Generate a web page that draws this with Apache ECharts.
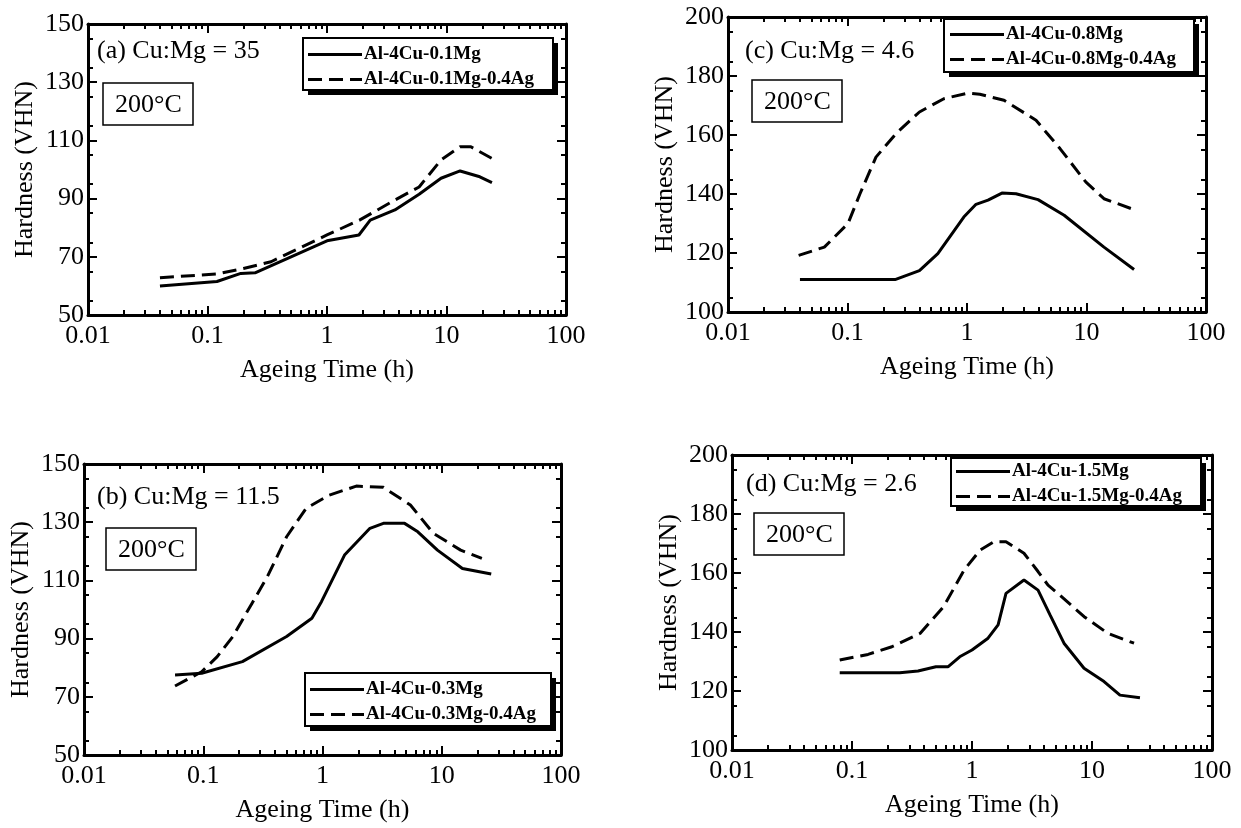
<!DOCTYPE html>
<html><head><meta charset="utf-8">
<script src="https://cdn.jsdelivr.net/npm/echarts@6/dist/echarts.min.js"></script>
<style>html,body{margin:0;padding:0;background:#fff}#c{width:1241px;height:828px}</style>
</head><body><div id="c"></div>
<script>
// ---- tick values ----
const xTicks = [0.01, 0.1, 1, 10, 100];
const xMinorTicks = [0.02,0.03,0.04,0.05,0.06,0.07,0.08,0.09,
                     0.2,0.3,0.4,0.5,0.6,0.7,0.8,0.9,
                     2,3,4,5,6,7,8,9,
                     20,30,40,50,60,70,80,90];
const yTicksLow = [50, 70, 90, 110, 130, 150];
const yTicksHigh = [100, 120, 140, 160, 180, 200];

// ---- (a) Cu:Mg = 35 ----
const aBaseT = [0.04, 0.12, 0.19, 0.25, 0.5, 1, 1.85, 2.3, 3.7, 5.9, 9, 13, 19, 24];
const aBaseH = [60, 61.5, 64.3, 64.5, 70, 75.5, 77.5, 82.6, 86.1, 91.5, 97, 99.5, 97.5, 95.5];
const aAgT = [0.04, 0.12, 0.2, 0.34, 1, 1.87, 3.7, 5.9, 9, 13, 16, 24];
const aAgH = [62.8, 64.1, 66, 68.3, 77.5, 82.6, 89.5, 94, 103.3, 107.8, 107.8, 103.8];

// ---- (b) Cu:Mg = 11.5 ----
const bBaseT = [0.058, 0.097, 0.213, 0.5, 0.815, 0.98, 1.53, 2.5, 3.24, 4.88, 6.3, 9.2, 14.9, 26];
const bBaseH = [77.5, 78.1, 82.1, 90.7, 97, 102.7, 118.7, 127.9, 129.6, 129.6, 126.7, 120.4, 114.1, 112.2];
const bAgT = [0.058, 0.097, 0.131, 0.177, 0.256, 0.345, 0.5, 0.73, 1.14, 1.92, 3.24, 5.46, 8.5, 14.4, 21.7];
const bAgH = [73.7, 78.6, 83.8, 90.7, 102.1, 111.3, 125, 134.8, 139.3, 142.4, 142, 135.9, 126.2, 120.4, 117.6];

// ---- (c) Cu:Mg = 4.6 ----
const cBaseT = [0.04, 0.25, 0.4, 0.57, 0.75, 0.94, 1.19, 1.5, 1.96, 2.57, 3.93, 6.5, 14, 25];
const cBaseH = [111, 111, 114, 119.8, 126.6, 132.2, 136.5, 137.9, 140.3, 140.1, 138.1, 132.8, 122, 114.4];
const cAgT = [0.039, 0.064, 0.101, 0.127, 0.173, 0.255, 0.4, 0.64, 1.02, 1.28, 2.04, 3.78, 6, 9.9, 14, 25];
const cAgH = [119.2, 122, 130, 140, 152.5, 160.5, 167.8, 172.3, 174.2, 173.8, 171.8, 165, 155.4, 144, 138.4, 134.7];

// ---- (d) Cu:Mg = 2.6 ----
const dBaseT = [0.079, 0.25, 0.355, 0.5, 0.63, 0.79, 1.0, 1.36, 1.65, 1.92, 2.71, 3.55, 4.47, 5.84, 8.58, 12.6, 17.1, 25.1];
const dBaseH = [126.2, 126.2, 126.8, 128.2, 128.2, 131.6, 133.9, 137.9, 142.4, 153.1, 157.6, 154.2, 145.8, 136.2, 127.7, 123.2, 118.6, 117.7];
const dAgT = [0.079, 0.136, 0.215, 0.369, 0.58, 0.86, 1.17, 1.52, 1.92, 2.71, 3.55, 4.3, 5.4, 8.6, 13.6, 22.4];
const dAgH = [130.5, 132.4, 135, 139.5, 148.6, 161, 167.8, 170.6, 170.6, 166.7, 160.5, 155.9, 152.5, 145.2, 139.5, 136.2];

const panels = [
  {label: '(a) Cu:Mg = 35', names: ['Al-4Cu-0.1Mg', 'Al-4Cu-0.1Mg-0.4Ag'],
   base: [aBaseT, aBaseH], ag: [aAgT, aAgH], yTicks: yTicksLow,
   grid: {left: 88, top: 24, width: 478, height: 291},
   labelPos: {left: 97, top: 38}, boxPos: {left: 103, top: 83},
   legendBox: {x: 302, y: 37, w: 250, h: 52}, legendPos: {left: 308, top: 45}},
  {label: '(c) Cu:Mg = 4.6', names: ['Al-4Cu-0.8Mg', 'Al-4Cu-0.8Mg-0.4Ag'],
   base: [cBaseT, cBaseH], ag: [cAgT, cAgH], yTicks: yTicksHigh,
   grid: {left: 728, top: 17, width: 478, height: 295},
   labelPos: {left: 745, top: 38}, boxPos: {left: 752, top: 80},
   legendBox: {x: 943, y: 18, w: 250, h: 53}, legendPos: {left: 950, top: 25}},
  {label: '(b) Cu:Mg = 11.5', names: ['Al-4Cu-0.3Mg', 'Al-4Cu-0.3Mg-0.4Ag'],
   base: [bBaseT, bBaseH], ag: [bAgT, bAgH], yTicks: yTicksLow,
   grid: {left: 84, top: 464, width: 477, height: 291},
   labelPos: {left: 97, top: 484}, boxPos: {left: 106, top: 528},
   legendBox: {x: 304, y: 672, w: 246, h: 53}, legendPos: {left: 310, top: 680}},
  {label: '(d) Cu:Mg = 2.6', names: ['Al-4Cu-1.5Mg', 'Al-4Cu-1.5Mg-0.4Ag'],
   base: [dBaseT, dBaseH], ag: [dAgT, dAgH], yTicks: yTicksHigh,
   grid: {left: 732, top: 455, width: 480, height: 295},
   labelPos: {left: 746, top: 471}, boxPos: {left: 754, top: 513},
   legendBox: {x: 950, y: 457, w: 250, h: 48}, legendPos: {left: 956, top: 462}}
];

const FONT = 'Liberation Serif';
const DASH_ICON = 'path://M0,0h14v3h-14z M21,0h14v3h-14z M42,0h12v3h-12z';
const SHADOW = 6;
const zip = (t, h) => t.map((v, i) => [v, h[i]]);

const option = {
  animation: false,
  backgroundColor: '#fff',
  grid: [], xAxis: [], yAxis: [], series: [], legend: [], title: [], graphic: []
};

panels.forEach((p, gi) => {
  option.grid.push(Object.assign({containLabel: false}, p.grid));
  const yMin = p.yTicks[0], yMax = p.yTicks[p.yTicks.length - 1];
  const frame = {show: true, lineStyle: {color: '#000', width: 3}};
  const xBase = {type: 'log', logBase: 10, min: xTicks[0], max: xTicks[xTicks.length - 1], gridIndex: gi, splitLine: {show: false}};
  const xMainIdx = option.xAxis.length;
  option.xAxis.push(Object.assign({}, xBase, {
    position: 'bottom', axisLine: frame,
    axisTick: {show: true, inside: true, length: 9, lineStyle: {color: '#000', width: 2}},
    axisLabel: {show: true, color: '#000', fontFamily: FONT, fontSize: 26, margin: 8,
                formatter: v => String(v)},
    name: 'Ageing Time (h)', nameLocation: 'middle', nameGap: 42,
    nameTextStyle: {color: '#000', fontFamily: FONT, fontSize: 26}
  }));
  option.xAxis.push(Object.assign({}, xBase, {
    position: 'bottom', axisLine: {show: false},
    axisTick: {show: true, inside: true, length: 5, customValues: xMinorTicks, lineStyle: {color: '#000', width: 2}},
    axisLabel: {show: false}
  }));
  option.xAxis.push(Object.assign({}, xBase, {
    position: 'top', axisLine: frame,
    axisTick: {show: true, inside: true, length: 9, lineStyle: {color: '#000', width: 2}},
    axisLabel: {show: false}
  }));
  option.xAxis.push(Object.assign({}, xBase, {
    position: 'top', axisLine: {show: false},
    axisTick: {show: true, inside: true, length: 5, customValues: xMinorTicks, lineStyle: {color: '#000', width: 2}},
    axisLabel: {show: false}
  }));
  const yBase = {type: 'value', min: yMin, max: yMax, interval: 10, gridIndex: gi, splitLine: {show: false},
    minorTick: {show: true, splitNumber: 2, length: 5, lineStyle: {color: '#000', width: 2}}};
  const yMainIdx = option.yAxis.length;
  option.yAxis.push(Object.assign({}, yBase, {
    position: 'left', axisLine: frame,
    axisTick: {show: true, inside: true, length: 9, customValues: p.yTicks, lineStyle: {color: '#000', width: 2}},
    axisLabel: {show: true, customValues: p.yTicks, color: '#000', fontFamily: FONT, fontSize: 26, margin: 4},
    name: 'Hardness (VHN)', nameLocation: 'middle', nameGap: 50, nameRotate: 90,
    nameTextStyle: {color: '#000', fontFamily: FONT, fontSize: 26}
  }));
  option.yAxis.push(Object.assign({}, yBase, {
    position: 'right', axisLine: frame,
    axisTick: {show: true, inside: true, length: 9, customValues: p.yTicks, lineStyle: {color: '#000', width: 2}},
    axisLabel: {show: false}
  }));

  option.series.push({
    name: p.names[0], type: 'line', xAxisIndex: xMainIdx, yAxisIndex: yMainIdx,
    data: zip(p.base[0], p.base[1]), symbol: 'none', smooth: false,
    lineStyle: {color: '#000', width: 3, type: 'solid'}, itemStyle: {color: '#000'}, z: 2
  });
  option.series.push({
    name: p.names[1], type: 'line', xAxisIndex: xMainIdx, yAxisIndex: yMainIdx,
    data: zip(p.ag[0], p.ag[1]), symbol: 'none', smooth: false,
    lineStyle: {color: '#000', width: 3, type: [14, 7]}, itemStyle: {color: '#000'}, z: 2
  });

  // legend box: solid black offset block behind a white bordered box
  option.graphic.push({
    type: 'rect', left: p.legendBox.x + SHADOW, top: p.legendBox.y + SHADOW, z: 3,
    shape: {width: p.legendBox.w, height: p.legendBox.h},
    style: {fill: '#000', stroke: null}
  });
  option.graphic.push({
    type: 'rect', left: p.legendBox.x, top: p.legendBox.y, z: 3,
    shape: {width: p.legendBox.w, height: p.legendBox.h},
    style: {fill: '#fff', stroke: '#000', lineWidth: 2}
  });
  option.legend.push(Object.assign({
    data: [{name: p.names[0], icon: 'rect'}, {name: p.names[1], icon: DASH_ICON}],
    orient: 'vertical', itemWidth: 54, itemHeight: 3, itemGap: 6, padding: 0, z: 4,
    textStyle: {color: '#000', fontFamily: FONT, fontSize: 19, fontWeight: 'bold', padding: [0, 0, 0, -3]},
    itemStyle: {color: '#000', borderWidth: 0},
    selectedMode: false
  }, p.legendPos));

  option.title.push(Object.assign({
    text: p.label, padding: 0,
    textStyle: {color: '#000', fontFamily: FONT, fontSize: 26, fontWeight: 'normal'}
  }, p.labelPos));
  option.title.push(Object.assign({
    text: '200°C', padding: [9, 12, 7, 12], borderColor: '#000', borderWidth: 1.5,
    textStyle: {color: '#000', fontFamily: FONT, fontSize: 26, fontWeight: 'normal'}
  }, p.boxPos));
});

const chart = echarts.init(document.getElementById('c'), null, {renderer: 'canvas'});
chart.setOption(option);
</script>
</body></html>
